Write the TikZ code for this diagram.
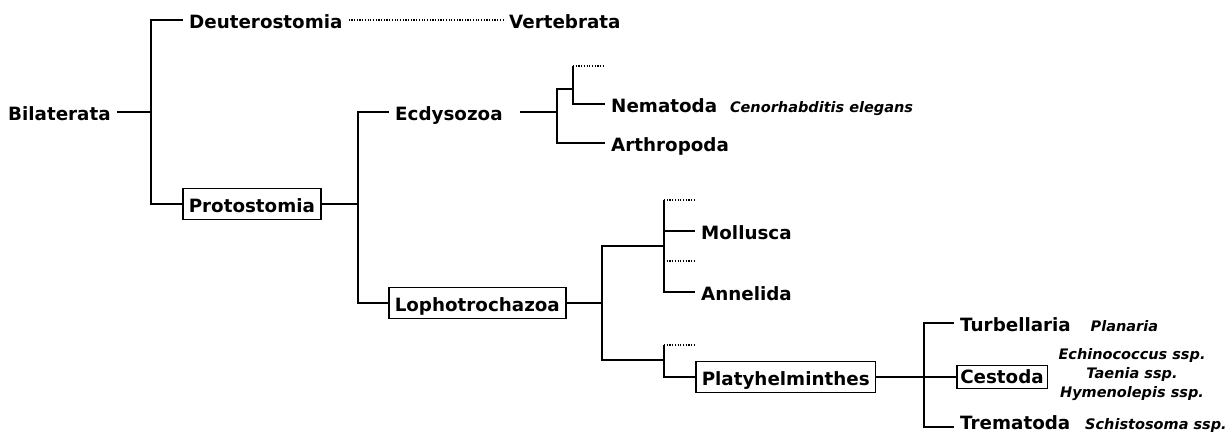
\documentclass[tikz,border=0pt]{standalone}
\usepackage{fontspec}
\setmainfont{DejaVu Sans}
\usetikzlibrary{positioning}
\tikzset{
  taxon/.style={font=\fontsize{18.3}{22}\selectfont\bfseries, inner xsep=6pt, inner ysep=5pt,
    text height=19pt, text depth=2pt, anchor=west},
  taxonbox/.style={taxon, draw, line width=1.5pt},
  spfont/.style={font=\fontsize{14.5}{19}\selectfont\bfseries\itshape},
  species/.style={spfont, inner sep=4.5pt, text height=19pt, text depth=2pt}
}
\begin{document}
\begin{tikzpicture}[x=1pt, y=-1pt,
  tree/.style={line width=1.8pt},
  dots/.style={line width=1.5pt, dash pattern=on 1.2pt off 1.5pt}]
  \useasboundingbox (0,0) rectangle (1228,432);
  % taxa
  \node[taxon] (bil) at (2,112) {Bilaterata};
  \node[taxon] (deu) at (183,20) {Deuterostomia};
  \node[taxon] (vert) at (503,20) {Vertebrata};
  \node[taxonbox] (pro) at (182,204) {Protostomia};
  \node[taxon] (ecd) at (389,112) {Ecdysozoa};
  \node[taxon] (nem) at (605,104) {Nematoda};
  \node[taxon] (art) at (605,143) {Arthropoda};
  \node[taxonbox] (lop) at (388,303) {Lophotrochazoa};
  \node[taxon] (mol) at (695,231) {Mollusca};
  \node[taxon] (ann) at (695,292) {Annelida};
  \node[taxonbox] (pla) at (695,377) {Platyhelminthes};
  \node[taxon] (tur) at (954,323) {Turbellaria};
  \node[taxonbox, inner xsep=3.5pt, inner ysep=2pt, text height=16pt, text depth=3pt] (ces) at (956,377) {Cestoda};
  \node[taxon, text height=10pt, text depth=6pt] (tre) at (954,427) {Trematoda};
  % species
  \node[species, right=2pt of nem] (celeg) {Cenorhabditis elegans};
  \node[species, right=9pt of tur] (plan) {Planaria};
  \node[species, right=4pt of tre, text height=10pt, text depth=6pt] (schis) {Schistosoma ssp.};
  \node[spfont, align=center] (cestsp) at (1132,375) {Echinococcus ssp.\\Taenia ssp.\\Hymenolepis ssp.};
  % Bilaterata
  \coordinate (root) at (151,112);
  \draw[tree] (bil) -- (root);
  \draw[tree] (deu.west) -| (root) |- (pro.west);
  \draw[dots] (deu) -- (vert);
  % Protostomia
  \coordinate (proto) at (358,204);
  \draw[tree] (pro) -- (proto);
  \draw[tree] (ecd.west) -| (proto) |- (lop.west);
  % Ecdysozoa
  \coordinate (ecdy) at (557,112);
  \coordinate (nemjn) at (573,89);
  \coordinate (nemdots) at (604,66);
  \draw[tree] ([xshift=11pt]ecd.east) -- (ecdy);
  \draw[tree] (nemjn) -| (ecdy) |- (art.west);
  \draw[tree] (nemdots -| nemjn) |- (nem.west);
  \draw[dots] (nemdots -| nemjn) -- (nemdots);
  % Lophotrochazoa
  \coordinate (lopho) at (602,303);
  \coordinate (molann) at (664,246);
  \coordinate (platy) at (664,360);
  \coordinate (moldots) at (695,200);
  \coordinate (anndots) at (695,261);
  \coordinate (pladots) at (695,345);
  \draw[tree] (lop) -- (lopho);
  \draw[tree] (molann) -| (lopho) |- (platy);
  \draw[tree] (moldots -| molann) |- (ann.west);
  \draw[tree] (molann |- mol.west) -- (mol.west);
  \draw[dots] (moldots -| molann) -- (moldots);
  \draw[dots] (anndots -| molann) -- (anndots);
  \draw[tree] (pladots -| platy) |- (pla.west);
  \draw[dots] (pladots -| platy) -- (pladots);
  % Platyhelminthes
  \coordinate (flat) at (924,377);
  \draw[tree] (pla) -- (ces);
  \draw[tree] (tur.west) -| (flat) |- (tre.west);
\end{tikzpicture}
\end{document}
